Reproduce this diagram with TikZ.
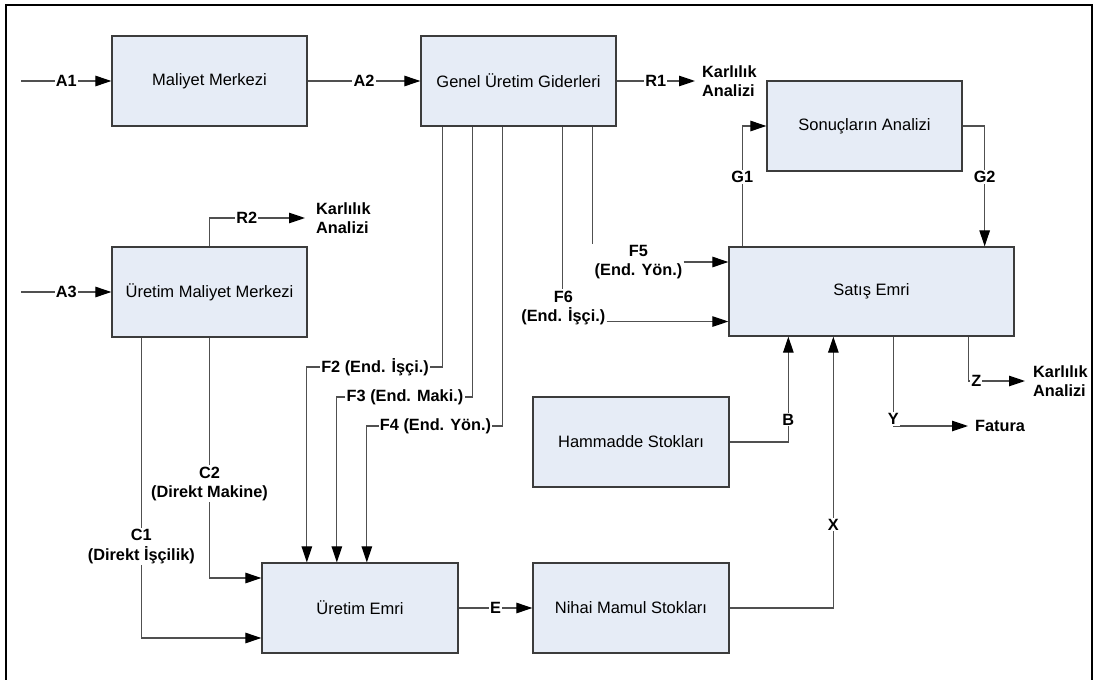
\documentclass[tikz,border=0pt]{standalone}
\usepackage{fontspec}
\setmainfont{Liberation Sans}
\usetikzlibrary{arrows.meta}
\definecolor{boxfill}{RGB}{230,236,246}
\definecolor{boxline}{RGB}{60,60,60}
\definecolor{wirec}{RGB}{80,80,80}
\begin{document}
\begin{tikzpicture}[x=1pt,y=-1pt,
  block/.style={draw=boxline, line width=1.3pt, fill=boxfill,
    minimum width=195pt, minimum height=90pt, inner sep=0pt,
    font=\fontsize{16.5}{19.5}\selectfont},
  wire/.style={draw=wirec, line width=1.2pt},
  arr/.style={wire, -{Triangle[length=16pt,width=10.5pt,color=black]}},
  lbl/.style={fill=white, inner sep=1.2pt, align=center,
    font=\bfseries\fontsize{16.3}{19.5}\selectfont},
  txt/.style={inner sep=0pt, align=left,
    font=\bfseries\fontsize{16.3}{19.5}\selectfont}]
\useasboundingbox (0,0) rectangle (1093,680);

% outer frame
\draw[line width=2pt] (6,681) -- (6,5) -- (1091.5,5) -- (1091.5,681);

% blocks
\node[block] (mm)  at (209.5,81)  {Maliyet Merkezi};
\node[block] (gug) at (518.5,81)  {Genel Üretim Giderleri};
\node[block] (sa)  at (864.5,126) {Sonuçların Analizi};
\node[block, minimum width=285pt, minimum height=89pt] (se) at (871.5,291.5) {Satış Emri};
\node[block] (umm) at (209.5,292) {Üretim Maliyet Merkezi};
\node[block, minimum width=196pt] (hs)  at (631,442) {Hammadde Stokları};
\node[block, minimum width=196pt] (nms) at (631,608) {Nihai Mamul Stokları};
\node[block, minimum width=196pt] (ue)  at (360,608) {Üretim Emri};

% free texts
\node[txt, anchor=west] (kr1) at (702,81)  {Karlılık\\Analizi};
\node[txt, anchor=west] (kr2) at (316,218) {Karlılık\\Analizi};
\node[txt, anchor=west] (kr3) at (1033,381) {Karlılık\\Analizi};
\node[txt, anchor=west] (fat) at (975,426) {Fatura};

% inputs
\coordinate (a1in) at (21,81);
\coordinate (a3in) at (21,292);
\draw[arr] (a1in) -- node[lbl]{A1} (mm.west);
\draw[arr] (mm.east) -- node[lbl]{A2} (gug.west);
\draw[arr] (gug.east) -- node[lbl]{R1} ([xshift=-7pt]kr1.west);
\draw[arr] (a3in) -- node[lbl]{A3} (umm.west);
\draw[arr] (umm.north) |- node[lbl,pos=0.695]{R2} ([xshift=-11pt]kr2.west);

% overhead allocations to the production order
\node[lbl] (f2) at (375,367)   {F2 (End. İşçi.)};
\node[lbl] (f3) at (405,397)   {F3 (End. Maki.)};
\node[lbl] (f4) at (435.5,426) {F4 (End. Yön.)};
\draw[wire] ([xshift=22pt]gug.south west) |- (f2.east);
\draw[arr] (f2.west) -| ([xshift=45.5pt]ue.north west);
\draw[wire] ([xshift=52pt]gug.south west) |- (f3.east);
\draw[arr] (f3.west) -| ([xshift=75.5pt]ue.north west);
\draw[wire] ([xshift=82pt]gug.south west) |- (f4.east);
\draw[arr] (f4.west) -| ([xshift=105.5pt]ue.north west);

% overhead allocations to the sales order
\node[lbl] (f5) at (638.5,262) {F5\\(End. Yön.)};
\node[lbl] (f6) at (563.3,308) {F6\\(End. İşçi.)};
\coordinate (o5) at ([xshift=172pt]gug.south west);
\coordinate (o6) at ([xshift=142pt]gug.south west);
\draw[wire] (o5) -- (o5 |- f5.north);
\draw[arr] (f5.east) -- (f5.east -| se.west);
\draw[wire] (o6) -- (o6 |- f6.north);
\coordinate (f6o) at ([yshift=5pt]f6.south east);
\draw[arr] (f6o) -- (f6o -| se.west);

% analysis loop
\draw[arr] ([xshift=14pt]se.north west) |- node[lbl,pos=0.29]{G1} (sa.west);
\draw[arr] (sa.east) -| node[lbl,pos=0.71]{G2} ([xshift=-30pt]se.north east);

% stocks into the sales order
\draw[arr] (hs.east) -| node[lbl,pos=0.607]{B} ([xshift=60pt]se.south west);
\draw[arr] (nms.east) -| node[lbl,pos=0.654]{X} ([xshift=105pt]se.south west);

% sales order outputs
\draw[arr] ([xshift=165pt]se.south west) |- node[lbl,pos=0.5,yshift=7pt]{Y} ([xshift=-7pt]fat.west);
\draw[arr] ([xshift=240pt]se.south west) |- node[lbl,pos=0.57]{Z} ([xshift=-8pt]kr3.west);

% direct costs
\draw[arr] ([xshift=30pt]umm.south west) |- node[lbl,pos=0.348]{C1\\(Direkt İşçilik)} ([yshift=-30pt]ue.west);
\draw[arr] (umm.south) |- node[lbl,pos=0.304]{C2\\(Direkt Makine)} ([yshift=30pt]ue.west);

% production order to finished goods
\draw[arr] (ue.east) -- node[lbl]{E} (nms.west);
\end{tikzpicture}
\end{document}
